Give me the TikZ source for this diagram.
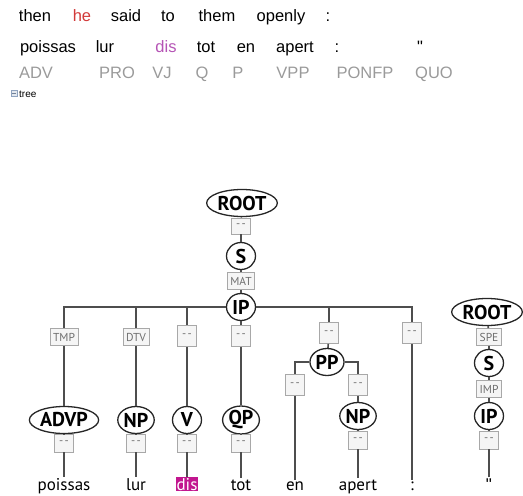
\documentclass[tikz,border=0pt]{standalone}
\usepackage{fontspec}
\setmainfont{Liberation Sans}
\newfontfamily\treefont{PT Sans}
\newfontfamily\rawfont{Liberation Sans}[Ligatures=TeXOff]
\usetikzlibrary{shapes.geometric}
\definecolor{EdgeGray}{HTML}{4E4E4E}
\definecolor{NodeLine}{HTML}{262626}
\definecolor{BoxLine}{HTML}{A8A8A8}
\definecolor{BoxFill}{HTML}{F5F5F5}
\definecolor{BoxText}{HTML}{6E6E6E}
\definecolor{TagGray}{HTML}{9A9A9A}
\definecolor{HeRed}{HTML}{D23A3A}
\definecolor{DisPurple}{HTML}{B554B5}
\definecolor{DisMagenta}{HTML}{C2168F}
\definecolor{IconBlue}{HTML}{8FA3BF}
\newcommand{\nofn}{-\kern1.5pt-}

\begin{document}
\begin{tikzpicture}[x=1pt,y=-1pt,
    hdr/.style={anchor=base, inner sep=0pt, font=\fontsize{16.5}{16.5}\selectfont},
    tag/.style={hdr, text=TagGray},
    cat/.style={
      ellipse,
      draw=NodeLine,
      line width=1.3pt,
      fill=white,
      inner sep=0.6pt,
      minimum width=29pt,
      minimum height=27pt,
      font=\treefont\bfseries\fontsize{20}{20}\selectfont
    },
    fn/.style={
      draw=BoxLine,
      fill=BoxFill,
      line width=0.8pt,
      text=BoxText,
      inner xsep=3pt,
      inner ysep=2pt,
      minimum height=17pt,
      font=\treefont\fontsize{11.5}{11.5}\selectfont
    },
    fnblank/.style={fn, inner xsep=1pt, minimum width=19pt, minimum height=21pt},
    leaf/.style={anchor=base, inner sep=1pt, font=\treefont\fontsize{17}{17}\selectfont},
    link/.style={draw=EdgeGray, line width=1.6pt}
  ]
    \useasboundingbox (0,0) rectangle (523,496);

    % sentence and tags
    \node[hdr] (en1) at (35,21) {then};
    \node[hdr, text=HeRed] (en2) at (82,21) {he};
    \node[hdr] (en3) at (126,21) {said};
    \node[hdr] (en4) at (168,21) {to};
    \node[hdr] (en5) at (217,21) {them};
    \node[hdr] (en6) at (281,21) {openly};
    \node[hdr] (en7) at (328,21) {:};

    \node[hdr] (fr1) at (48,52) {poissas};
    \node[hdr] (fr2) at (105,52) {lur};
    \node[hdr, text=DisPurple] (fr3) at (166,52) {dis};
    \node[hdr] (fr4) at (206,52) {tot};
    \node[hdr] (fr5) at (246,52) {en};
    \node[hdr] (fr6) at (295,52) {apert};
    \node[hdr] (fr7) at (337,52) {:};
    \node[hdr] (fr8) at (420,52) {\rawfont"};

    \node[tag] (pos1) at (36,78) {ADV};
    \node[tag] (pos2) at (117,78) {PRO};
    \node[tag] (pos3) at (162,78) {VJ};
    \node[tag] (pos4) at (202,78) {Q};
    \node[tag] (pos5) at (238,78) {P};
    \node[tag] (pos6) at (293,78) {VPP};
    \node[tag] (pos7) at (365,78) {PONFP};
    \node[tag] (pos8) at (434,78) {QUO};

    \node[draw=IconBlue, fill=IconBlue!25, line width=0.6pt, minimum size=6pt, inner sep=0pt] (treeicon) at (14,93) {};
    \draw[IconBlue!80!black, line width=0.6pt] ([xshift=1.3pt]treeicon.west) -- ([xshift=-1.3pt]treeicon.east);
    \node[anchor=base west, inner sep=0pt, font=\fontsize{10}{10}\selectfont] (treelabel) at (19,97) {tree};

    % main tree
    \node[cat] (root) at (242,203) {ROOT};
    \node[fnblank, minimum height=16pt] (rootfn) at (241,226) {\nofn};
    \node[cat] (s) at (241,256) {S};
    \node[fn] (mat) at (241,281) {MAT};
    \node[cat] (ip) at (241,307) {IP};

    \node[fn] (tmp) at (64,337) {TMP};
    \node[fn] (dtv) at (136,337) {DTV};
    \node[fnblank] (vfn) at (187,336) {\nofn};
    \node[fnblank] (qpfn) at (241,336) {\nofn};
    \node[fnblank] (ppfn) at (329,333) {\nofn};
    \node[fnblank] (colfn) at (412,333) {\nofn};

    \node[cat] (advp) at (64,420) {ADVP};
    \node[cat] (np) at (136,420) {NP};
    \node[cat] (v) at (187,420) {V};
    \node[cat] (qp) at (241,420) {QP};
    \node[cat] (pp) at (327,362) {PP};
    \node[fnblank] (enfn) at (295,385) {\nofn};
    \node[fnblank] (apfn) at (358,385) {\nofn};
    \node[cat] (npb) at (358,416) {NP};

    \node[fnblank, minimum height=18pt] (advplow) at (64,443) {\nofn};
    \node[fnblank, minimum height=18pt] (nplow) at (136,443) {\nofn};
    \node[fnblank, minimum height=18pt] (vlow) at (187,443) {\nofn};
    \node[fnblank, minimum height=18pt] (qplow) at (241,443) {\nofn};
    \node[fnblank, minimum height=18pt] (npblow) at (358,440) {\nofn};

    \node[leaf] (w1) at (64,490) {poissas};
    \node[leaf] (w2) at (136,490) {lur};
    \node[leaf, fill=DisMagenta, text=white] (w3) at (187,490) {dis};
    \node[leaf] (w4) at (241,490) {tot};
    \node[leaf] (w5) at (295,490) {en};
    \node[leaf] (w6) at (358,490) {apert};
    \node[leaf] (w7) at (412,490) {:};

    % second tree
    \node[cat] (rroot) at (487,312) {ROOT};
    \node[fn] (spe) at (489,337) {SPE};
    \node[cat] (rs) at (489,363) {S};
    \node[fn] (imp) at (489,389) {IMP};
    \node[cat] (rip) at (489,416) {IP};
    \node[fnblank, minimum height=18pt] (riplow) at (489,440) {\nofn};
    \node[leaf] (w8) at (489,490) {\rawfont"};

    % edges
    \draw[link] (root) -- (rootfn);
    \draw[link] (rootfn) -- (s);
    \draw[link] (s) -- (mat);
    \draw[link] (mat) -- (ip);
    \draw[link] (ip) -| (tmp);
    \draw[link] (ip) -| (dtv);
    \draw[link] (ip) -| (vfn);
    \draw[link] (ip) -- (qpfn);
    \draw[link] (ip) -| (ppfn);
    \draw[link] (ip) -| (colfn);

    \draw[link] (tmp) -- (advp);
    \draw[link] (dtv) -- (np);
    \draw[link] (vfn) -- (v);
    \draw[link] (qpfn) -- (qp);
    \draw[link] (advp) -- (advplow);
    \draw[link] (np) -- (nplow);
    \draw[link] (v) -- (vlow);
    \draw[link] (qp) -- (qplow);
    \draw[link] (advplow) -- (w1);
    \draw[link] (nplow) -- (w2);
    \draw[link] (vlow) -- (w3);
    \draw[link] (qplow) -- (w4);

    \draw[link] (ppfn) -- (pp);
    \draw[link] (pp) -| (enfn);
    \draw[link] (pp) -| (apfn);
    \draw[link] (enfn) -- (w5);
    \draw[link] (apfn) -- (npb);
    \draw[link] (npb) -- (npblow);
    \draw[link] (npblow) -- (w6);
    \draw[link] (colfn) -- (w7);

    \draw[link] (rroot) -- (spe);
    \draw[link] (spe) -- (rs);
    \draw[link] (rs) -- (imp);
    \draw[link] (imp) -- (rip);
    \draw[link] (rip) -- (riplow);
    \draw[link] (riplow) -- (w8);
\end{tikzpicture}
\end{document}
